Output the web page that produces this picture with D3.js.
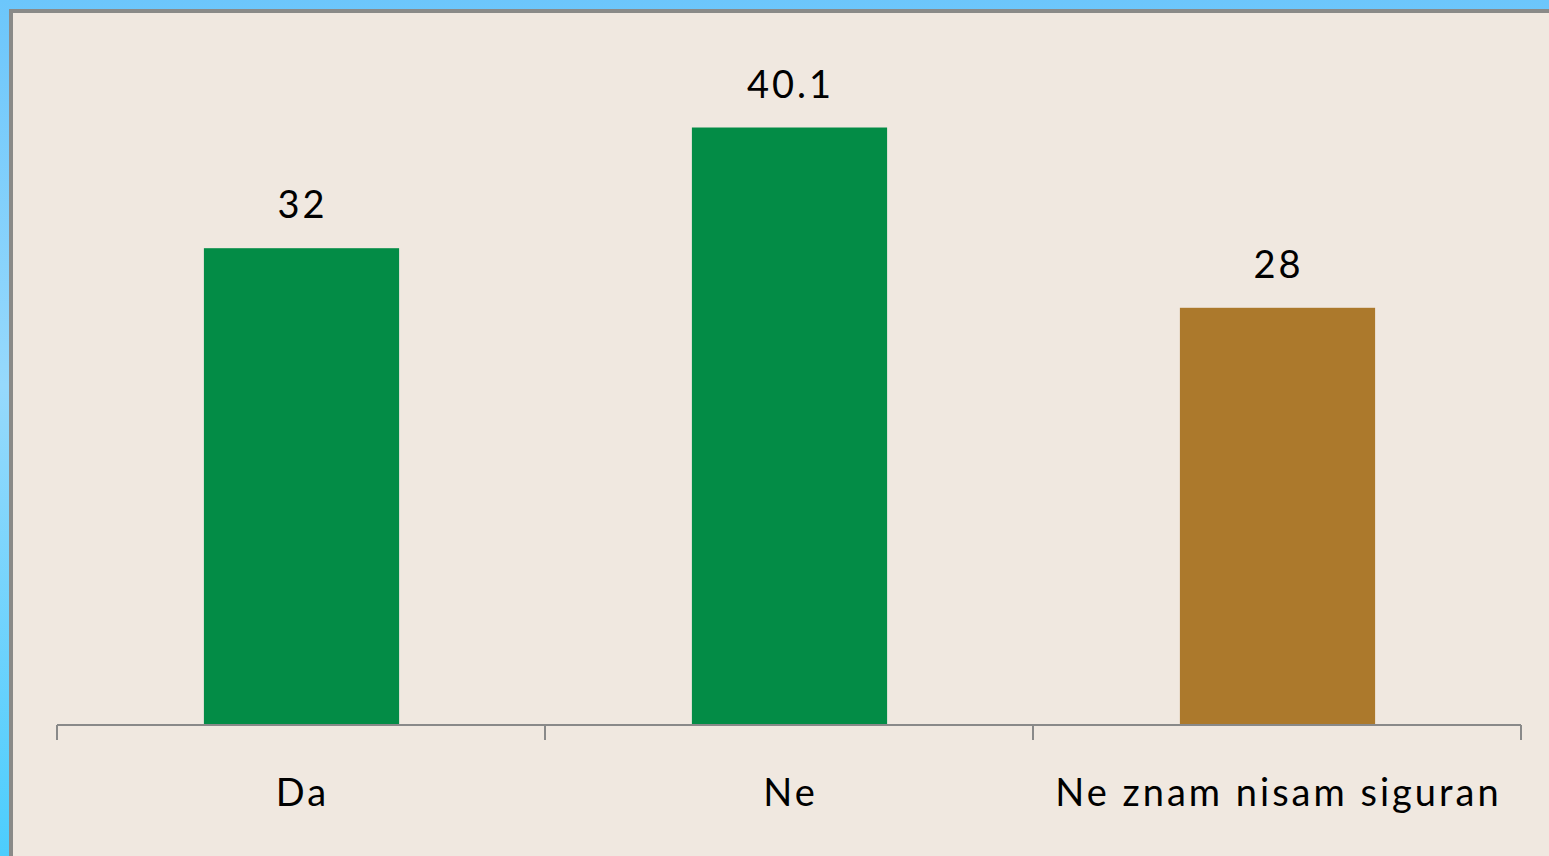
<!DOCTYPE html>
<html>
<head>
<meta charset="utf-8">
<script src="https://cdn.jsdelivr.net/npm/d3@7/dist/d3.min.js"></script>
<style>
html,body{margin:0;padding:0;overflow:hidden;}
svg{display:block;}
</style>
</head>
<body>
<svg id="chart" width="1549" height="856"></svg>
<script>
const categories = ["Da", "Ne", "Ne znam nisam siguran"];
const values = [32, 40.1, 28];
const valueLabels = ["32", "40.1", "28"];
const barColors = ["#038c46", "#038c46", "#ac792c"];

const W = 1549, H = 856;
const svg = d3.select("#chart");

const defs = svg.append("defs");
const grad = defs.append("linearGradient").attr("id", "bg").attr("x1", 0).attr("y1", 0).attr("x2", 0).attr("y2", 1);
grad.append("stop").attr("offset", "0%").attr("stop-color", "#6cc6fb");
grad.append("stop").attr("offset", "45%").attr("stop-color", "#96d9fc");
grad.append("stop").attr("offset", "100%").attr("stop-color", "#4ccdfd");

svg.append("rect").attr("x", 0).attr("y", 0).attr("width", W).attr("height", H).attr("fill", "url(#bg)");
svg.append("rect").attr("x", 9).attr("y", 9).attr("width", W - 9).attr("height", H - 9).attr("fill", "#8a8a88");
svg.append("rect").attr("x", 13).attr("y", 13).attr("width", W - 13).attr("height", H - 13).attr("fill", "#f0e8e0");

const x0 = 57, x1 = 1521, yBase = 725;
const x = d3.scaleBand().domain(categories).range([x0, x1]).padding(0);
const y = d3.scaleLinear().domain([0, 45]).range([yBase, yBase - 45 * 14.9]);

const barW = x.bandwidth() * 0.4;
const g = svg.append("g");

g.selectAll("rect.bar").data(categories).enter().append("rect")
  .attr("class", "bar")
  .attr("x", d => x(d) + x.bandwidth() / 2 - barW / 2 + 0.5)
  .attr("width", barW)
  .attr("y", (d, i) => y(values[i]))
  .attr("height", (d, i) => y(0) - y(values[i]))
  .attr("fill", (d, i) => barColors[i]);

// axis
const axis = d3.axisBottom(x).tickSize(0).tickFormat("");
const ax = svg.append("g").attr("transform", `translate(0,${yBase})`).call(axis);
ax.select(".domain").remove();
svg.append("line").attr("x1", x0).attr("x2", x1).attr("y1", yBase).attr("y2", yBase)
  .attr("stroke", "#898989").attr("stroke-width", 2);
const tickPos = categories.map(c => x(c)).concat([x(categories[categories.length - 1]) + x.bandwidth()]);
svg.selectAll("line.tick").data(tickPos).enter().append("line")
  .attr("x1", d => d).attr("x2", d => d)
  .attr("y1", yBase).attr("y2", 740)
  .attr("stroke", "#898989").attr("stroke-width", 2);

// category labels
svg.selectAll("text.cat").data(categories).enter().append("text")
  .attr("x", d => x(d) + x.bandwidth() / 2 + 1.5)
  .attr("y", 806)
  .attr("text-anchor", "middle")
  .attr("font-family", "Lato, 'Open Sans', sans-serif")
  .attr("font-size", 38)
  .attr("letter-spacing", 3)
  .attr("fill", "#000")
  .text(d => d);

// value labels
svg.selectAll("text.val").data(categories).enter().append("text")
  .attr("x", d => x(d) + x.bandwidth() / 2 + 1.5)
  .attr("y", (d, i) => y(values[i]) - 30)
  .attr("text-anchor", "middle")
  .attr("font-family", "Lato, 'Open Sans', sans-serif")
  .attr("font-size", 38)
  .attr("letter-spacing", 3)
  .attr("fill", "#000")
  .text((d, i) => valueLabels[i]);
</script>
</body>
</html>
